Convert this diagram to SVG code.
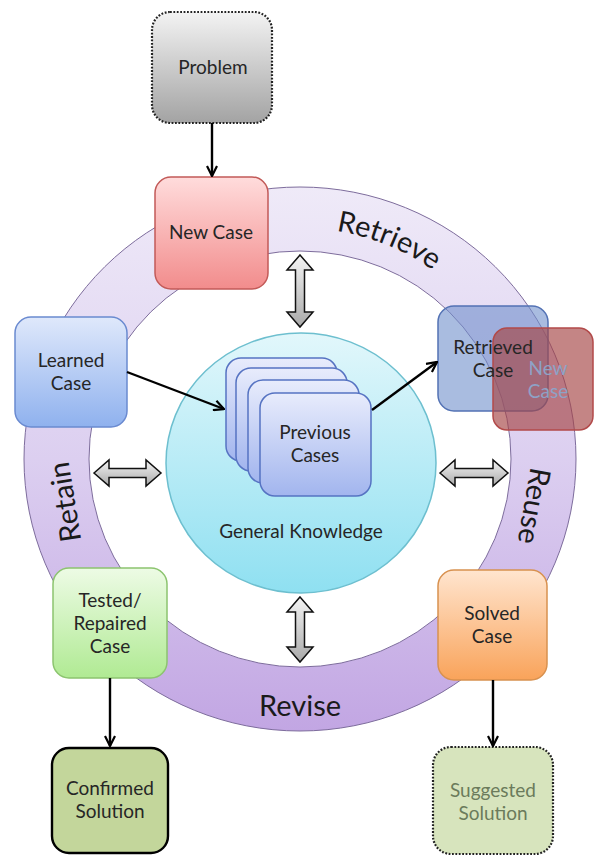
<svg xmlns="http://www.w3.org/2000/svg" width="594" height="856" viewBox="0 0 594 856">
<style>
text{font-family:Lato,"Liberation Sans",sans-serif;fill:#262626;}
.lbl{font-size:19px;text-anchor:middle;}
.ring{font-size:29px;fill:#1a1a1a;}
.box{stroke-width:1.5;}
.dot{stroke:#222;stroke-width:2.2;stroke-dasharray:1.8 1.6;}
.con{stroke:#000;stroke-width:2.4;fill:none;marker-end:url(#ah);}
.dbl{fill:url(#gArrow);stroke:#111;stroke-width:1.5;stroke-linejoin:miter;}
</style>
<defs>
<linearGradient id="gRing" x1="0" y1="0" x2="0" y2="1"><stop offset="0" stop-color="#efeaf8"/><stop offset="0.5" stop-color="#dccff0"/><stop offset="1" stop-color="#c2a6e3"/></linearGradient>
<linearGradient id="gCore" x1="0" y1="0" x2="0" y2="1"><stop offset="0" stop-color="#e2f7fb"/><stop offset="1" stop-color="#8fe0f1"/></linearGradient>
<linearGradient id="gGray" x1="0" y1="0" x2="0" y2="1"><stop offset="0" stop-color="#f3f3f3"/><stop offset="1" stop-color="#a3a3a3"/></linearGradient>
<linearGradient id="gRed" x1="0" y1="0" x2="0" y2="1"><stop offset="0" stop-color="#ffdcdc"/><stop offset="1" stop-color="#f28c8c"/></linearGradient>
<linearGradient id="gBlue" x1="0" y1="0" x2="0" y2="1"><stop offset="0" stop-color="#dfe8fb"/><stop offset="1" stop-color="#8fb1ee"/></linearGradient>
<linearGradient id="gCase" x1="0" y1="0" x2="0" y2="1"><stop offset="0" stop-color="#e8ecfc"/><stop offset="1" stop-color="#a2b5ee"/></linearGradient>
<linearGradient id="gGreen" x1="0" y1="0" x2="0" y2="1"><stop offset="0" stop-color="#edfbe5"/><stop offset="1" stop-color="#b0ea93"/></linearGradient>
<linearGradient id="gOrange" x1="0" y1="0" x2="0" y2="1"><stop offset="0" stop-color="#ffe5cf"/><stop offset="1" stop-color="#f9a35a"/></linearGradient>
<linearGradient id="gArrow" x1="0" y1="0" x2="0" y2="1"><stop offset="0" stop-color="#f4f4f4"/><stop offset="1" stop-color="#a9a9a9"/></linearGradient>
<marker id="ah" viewBox="0 0 12 12" refX="11" refY="6" markerWidth="12" markerHeight="12" markerUnits="userSpaceOnUse" orient="auto">
<path d="M1,1 L11,6 L1,11" fill="none" stroke="#000" stroke-width="2.2"/>
</marker>
<path id="arcRetrieve" d="M320.1,228.9 A231,231 0 0 1 463.3,295.7"/>
</defs>

<g id="cycle-ring">
<path d="M24,459 a276,272 0 1,0 552,0 a276,272 0 1,0 -552,0 Z M89,459 a211,208 0 1,0 422,0 a211,208 0 1,0 -422,0 Z" fill="url(#gRing)" fill-rule="evenodd" stroke="#7d6c9c" stroke-width="1"/>
<text class="ring"><textPath href="#arcRetrieve" startOffset="69" text-anchor="middle">Retrieve</textPath></text>
<text class="ring" text-anchor="middle" transform="translate(534,506) rotate(100)" y="10">Reuse</text>
<text class="ring" text-anchor="middle" x="300" y="716">Revise</text>
<text class="ring" text-anchor="middle" transform="translate(65,502) rotate(-99)" y="10">Retain</text>
</g>

<g id="general-knowledge">
<ellipse cx="301" cy="463" rx="135" ry="130" fill="url(#gCore)" stroke="#6dbfcf" stroke-width="1.5"/>
<text class="lbl" x="301" y="538">General Knowledge</text>
</g>

<g id="previous-cases">
<rect x="226" y="358" width="111" height="103" rx="15" fill="url(#gCase)" stroke="#5673c2" stroke-width="1.5"/>
<rect x="236" y="368" width="111" height="103" rx="15" fill="url(#gCase)" stroke="#5673c2" stroke-width="1.5"/>
<rect x="248" y="380" width="111" height="103" rx="15" fill="url(#gCase)" stroke="#5673c2" stroke-width="1.5"/>
<rect x="260" y="393" width="111" height="103" rx="15" fill="url(#gCase)" stroke="#5673c2" stroke-width="1.5"/>
<text class="lbl" x="315" y="439">Previous</text>
<text class="lbl" x="315" y="462">Cases</text>
</g>

<g id="double-arrows">
<path class="dbl" d="M300,255 L313,270 L304.5,270 L304.5,312 L313,312 L300,327 L287,312 L295.5,312 L295.5,270 L287,270 Z"/>
<path class="dbl" d="M300,597 L313,612 L304.5,612 L304.5,647 L313,647 L300,662 L287,647 L295.5,647 L295.5,612 L287,612 Z"/>
<path class="dbl" d="M94,473 L109,460 L109,468.5 L146,468.5 L146,460 L161,473 L146,486 L146,477.5 L109,477.5 L109,486 Z"/>
<path class="dbl" d="M440,473 L455,460 L455,468.5 L493,468.5 L493,460 L508,473 L493,486 L493,477.5 L455,477.5 L455,486 Z"/>
</g>

<g id="problem">
<rect x="152" y="12" width="120" height="111" rx="18" fill="url(#gGray)" class="dot"/>
<text class="lbl" x="213" y="74">Problem</text>
</g>

<g id="new-case">
<rect x="155" y="177" width="113" height="112" rx="16" fill="url(#gRed)" stroke="#c25a58" class="box"/>
<text class="lbl" x="211" y="239">New Case</text>
</g>

<g id="learned-case">
<rect x="15" y="317" width="112" height="110" rx="16" fill="url(#gBlue)" stroke="#6a8ad0" class="box"/>
<text class="lbl" x="71" y="367">Learned</text>
<text class="lbl" x="71" y="390">Case</text>
</g>

<g id="retrieved-case">
<rect x="438" y="306" width="110" height="105" rx="16" fill="#6f8fcc" fill-opacity="0.6" stroke="#5372b4" stroke-width="1.5"/>
</g>

<g id="retrieved-new-case">
<rect x="493" y="328" width="100" height="102" rx="14" fill="#a54444" fill-opacity="0.65" stroke="#b24a4a" stroke-width="1.5"/>
<text class="lbl" x="548" y="375" style="fill:#8ea2c6">New</text>
<text class="lbl" x="548" y="398" style="fill:#8ea2c6">Case</text>
</g>
<g id="retrieved-case-label">
<text class="lbl" x="493" y="354">Retrieved</text>
<text class="lbl" x="493" y="377">Case</text>
</g>

<g id="tested-case">
<rect x="53" y="568" width="114" height="110" rx="16" fill="url(#gGreen)" stroke="#8cc46f" class="box"/>
<text class="lbl" x="110" y="607">Tested/</text>
<text class="lbl" x="110" y="630">Repaired</text>
<text class="lbl" x="110" y="653">Case</text>
</g>

<g id="solved-case">
<rect x="438" y="570" width="109" height="110" rx="16" fill="url(#gOrange)" stroke="#d8914f" class="box"/>
<text class="lbl" x="492" y="620">Solved</text>
<text class="lbl" x="492" y="643">Case</text>
</g>

<g id="confirmed-solution">
<rect x="52" y="748" width="116" height="105" rx="17" fill="#c3d69b" stroke="#000" stroke-width="2.4"/>
<text class="lbl" x="110" y="795">Confirmed</text>
<text class="lbl" x="110" y="818">Solution</text>
</g>

<g id="suggested-solution">
<rect x="433" y="747" width="120" height="107" rx="18" fill="#d7e4bd" class="dot"/>
<text class="lbl" x="493" y="797" style="fill:#6b7b5b">Suggested</text>
<text class="lbl" x="493" y="820" style="fill:#6b7b5b">Solution</text>
</g>

<g id="connectors">
<path class="con" d="M212,123 L212,176"/>
<path class="con" d="M127,372 L224,409"/>
<path class="con" d="M372,410 L437,362"/>
<path class="con" d="M110,678 L110,746"/>
<path class="con" d="M493,680 L493,746"/>
</g>
</svg>
